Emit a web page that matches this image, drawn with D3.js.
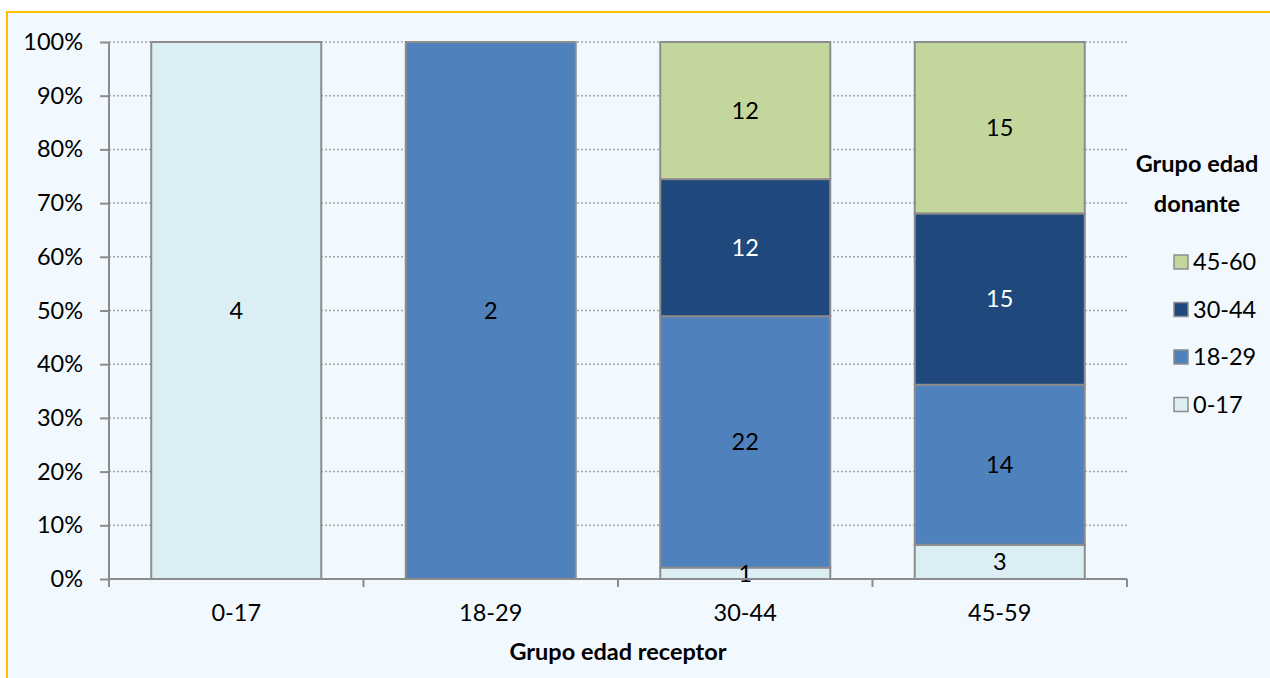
<!DOCTYPE html>
<html lang="es">
<head>
<meta charset="UTF-8">
<title>Grupo edad receptor / donante</title>
<script src="https://d3js.org/d3.v7.min.js"></script>
<style>
  body { margin: 0; background: #fff; }
  text { font-family: Lato, "Open Sans", sans-serif; font-size: 23.5px; fill: #000; }
  .grid-line { stroke: #a6a6a6; stroke-width: 1.5px; stroke-dasharray: 2 2; }
  .axis path, .axis line { stroke: #8c8c8c; stroke-width: 2px; }
  .bold { font-weight: bold; }
</style>
</head>
<body>
<div id="container"></div>
<script>
// receptor age groups (x categories)
const receptores = ["0-17", "18-29", "30-44", "45-59"];
// donor age groups (stack series), bottom to top
const donantes = ["0-17", "18-29", "30-44", "45-60"];
// counts per receptor group, one array per donor group
const d0_17  = [4, 0, 1, 3];
const d18_29 = [0, 2, 22, 14];
const d30_44 = [0, 0, 12, 15];
const d45_60 = [0, 0, 12, 15];
const yTicks = [0, 0.1, 0.2, 0.3, 0.4, 0.5, 0.6, 0.7, 0.8, 0.9, 1];

const colors = { "0-17": "#daeef3", "18-29": "#4f81bd", "30-44": "#1f497d", "45-60": "#c3d69b" };
const labelColor = { "0-17": "#000", "18-29": "#000", "30-44": "#fff", "45-60": "#000" };

const W = 1270, H = 678;
const margin = { top: 42, right: 143, bottom: 99, left: 109 };
const width = W - margin.left - margin.right,
      height = H - margin.top - margin.bottom;

const svg = d3.select("#container").append("svg")
  .attr("width", W).attr("height", H);

// frame
svg.append("rect").attr("x", 0).attr("y", 0).attr("width", W).attr("height", H).attr("fill", "#fff");
svg.append("rect").attr("x", 7).attr("y", 12).attr("width", W).attr("height", H)
  .attr("fill", "#f1f8fe").attr("stroke", "#ffc000").attr("stroke-width", 2);

const g = svg.append("g").attr("transform", "translate(" + margin.left + "," + margin.top + ")");

// build rows for stacking
const series = [d0_17, d18_29, d30_44, d45_60];
const rows = receptores.map(function (r, i) {
  const row = { receptor: r };
  donantes.forEach(function (d, j) { row[d] = series[j][i]; });
  return row;
});
const stacked = d3.stack().keys(donantes).offset(d3.stackOffsetExpand)(rows);

const x = d3.scaleBand().domain(receptores).range([0, width]).paddingInner(0.332).paddingOuter(0.166);
const xb = d3.scaleBand().domain(receptores).range([0, width]);
const y = d3.scaleLinear().domain([0, 1]).range([height, 0]);

// grid
g.append("g").selectAll("line").data(yTicks.slice(1)).enter().append("line")
  .attr("class", "grid-line")
  .attr("x1", 0).attr("x2", width)
  .attr("y1", function (d) { return y(d); }).attr("y2", function (d) { return y(d); });

// bars
const layers = g.append("g").selectAll("g").data(stacked).enter().append("g")
  .attr("fill", function (d) { return colors[d.key]; });

layers.selectAll("rect").data(function (d) { return d.filter(function (s) { return s[1] - s[0] > 0; }); })
  .enter().append("rect")
  .attr("x", function (d) { return x(d.data.receptor); })
  .attr("width", x.bandwidth())
  .attr("y", function (d) { return y(d[1]); })
  .attr("height", function (d) { return y(d[0]) - y(d[1]); })
  .attr("stroke", "#8c8c8c").attr("stroke-width", 2);

// value labels
stacked.forEach(function (layer) {
  g.append("g").selectAll("text")
    .data(layer.filter(function (s) { return s[1] - s[0] > 0; }))
    .enter().append("text")
    .attr("x", function (d) { return x(d.data.receptor) + x.bandwidth() / 2; })
    .attr("y", function (d) { return y((d[0] + d[1]) / 2); })
    .attr("dy", "0.35em")
    .attr("text-anchor", "middle")
    .style("fill", labelColor[layer.key])
    .text(function (d) { return d.data[layer.key]; });
});

// axes
const yAxis = d3.axisLeft(y).tickValues(yTicks).tickSize(9).tickPadding(17).tickFormat(d3.format(".0%"));
g.append("g").attr("class", "axis").call(yAxis)
  .call(function (s) { s.select(".domain").attr("d", "M0," + height + "V0"); });

const xAxis = g.append("g").attr("class", "axis").attr("transform", "translate(0," + height + ")");
xAxis.append("line").attr("x1", 0).attr("x2", width);
xAxis.selectAll("line.tick").data(receptores.concat(["end"])).enter().append("line")
  .attr("class", "tick")
  .attr("x1", function (d, i) { return i < receptores.length ? xb(d) : width; })
  .attr("x2", function (d, i) { return i < receptores.length ? xb(d) : width; })
  .attr("y1", 0).attr("y2", 8);
xAxis.selectAll("text").data(receptores).enter().append("text")
  .attr("x", function (d) { return xb(d) + xb.bandwidth() / 2; })
  .attr("y", 42).attr("text-anchor", "middle")
  .text(function (d) { return d; });

g.append("text").attr("class", "bold")
  .attr("x", width / 2).attr("y", height + 81).attr("text-anchor", "middle")
  .text("Grupo edad receptor");

// legend
const legend = svg.append("g").attr("transform", "translate(1197,0)");
legend.append("text").attr("class", "bold").attr("text-anchor", "middle").attr("y", 172).text("Grupo edad");
legend.append("text").attr("class", "bold").attr("text-anchor", "middle").attr("y", 212).text("donante");

const items = legend.selectAll("g.item").data(donantes.slice().reverse()).enter().append("g")
  .attr("class", "item")
  .attr("transform", function (d, i) { return "translate(0," + (262 + i * 47.5) + ")"; });
items.append("rect").attr("x", -23).attr("y", -7).attr("width", 14).attr("height", 14)
  .attr("fill", function (d) { return colors[d]; })
  .attr("stroke", "#8c8c8c").attr("stroke-width", 1.5);
items.append("text").attr("x", -4).attr("dy", "0.35em").text(function (d) { return d; });
</script>
</body>
</html>
